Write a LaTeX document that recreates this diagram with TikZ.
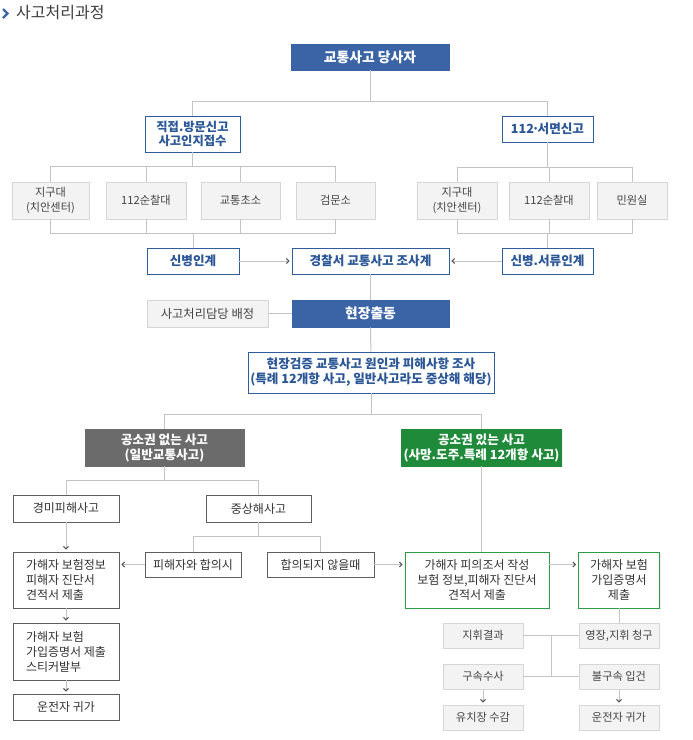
\documentclass[tikz,border=0pt]{standalone}
\usepackage{fontspec}
\setmainfont{Noto Sans CJK KR}
\usetikzlibrary{arrows.meta,calc,shadows}
\definecolor{hdblue}{HTML}{3A64A6}
\definecolor{bdblue}{HTML}{2F5D9B}
\definecolor{txblue}{HTML}{2B5797}
\definecolor{casegrey}{HTML}{6B6B6B}
\definecolor{casegreen}{HTML}{1E8A3A}
\definecolor{bdgreen}{HTML}{2E9B4B}
\definecolor{boxgrey}{HTML}{F3F3F3}
\definecolor{bdgrey}{HTML}{D6D6D6}
\definecolor{txgrey}{HTML}{444444}
\definecolor{bddark}{HTML}{5E5E5E}
\definecolor{txdark}{HTML}{333333}
\definecolor{wiregrey}{HTML}{C4C4C4}
\definecolor{tipgrey}{HTML}{555555}
\definecolor{titlegrey}{HTML}{3D3D3D}

\begin{document}
\begin{tikzpicture}[x=1pt,y=-1pt,
  base/.style={draw, line width=0.9pt, inner sep=2pt, align=center,
    drop shadow={opacity=0.12, shadow xshift=1.2pt, shadow yshift=-1.2pt}},
  head/.style={base, fill=hdblue, draw=hdblue, text=white,
    font=\fontsize{13.8}{16}\selectfont\bfseries, minimum height=26pt},
  bluebox/.style={base, fill=white, draw=bdblue, text=txblue,
    font=\fontsize{12.6}{15}\selectfont\bfseries, minimum height=26pt},
  greybox/.style={base, fill=boxgrey, draw=bdgrey, text=txgrey,
    font=\fontsize{11.2}{15}\selectfont, minimum width=80pt, minimum height=25pt},
  casebox/.style={base, text=white, font=\fontsize{12.6}{15}\selectfont\bfseries,
    minimum width=159pt, minimum height=37pt},
  plainbox/.style={base, fill=white, draw=bddark, text=txdark,
    font=\fontsize{12}{15}\selectfont},
  greenbox/.style={plainbox, draw=bdgreen},
  wire/.style={draw=wiregrey, line width=1pt},
  flow/.style={wire, -{Straight Barb[length=2.5pt,width=5pt,color=tipgrey]}, shorten >=2pt}
]
\useasboundingbox (0,0) rectangle (693,740);

% Title
\draw[hdblue, line width=2.4pt] (3,9) -- (7.5,13.5) -- (3,18);
\node[anchor=west, inner sep=0pt, text=titlegrey, font=\fontsize{16}{18}\selectfont] (title) at (16,13) {사고처리과정};

% Report reception
\node[head, minimum width=158pt] (party) at (370,57) {교통사고 당사자};
\node[bluebox, minimum width=95pt, minimum height=36pt,
  font=\fontsize{12.3}{13.8}\selectfont\bfseries] (visit) at (192.5,134) {직접.방문신고\\사고인지접수};
\node[bluebox, minimum width=91pt] (phone) at (547.5,129) {112\kern-2pt·\kern-2pt서면신고};

\draw[wire] (party.south) -- ++(0,31) -| (visit.north);
\draw[wire] (party.south) -- ++(0,31) -| (phone.north);

% Police units
\node[greybox, minimum width=77pt, minimum height=37pt] (post1) at (50.5,200.5) {지구대\\(치안센터)};
\node[greybox, minimum height=37pt] (patrol1) at (146,200.5) {112순찰대};
\node[greybox, minimum width=79pt, minimum height=37pt] (booth) at (240.5,200.5) {교통초소};
\node[greybox, minimum width=79pt, minimum height=37pt] (check) at (335.5,200.5) {검문소};
\node[greybox, minimum height=37pt] (post2) at (457,200.5) {지구대\\(치안센터)};
\node[greybox, minimum height=37pt] (patrol2) at (549,200.5) {112순찰대};
\node[greybox, minimum width=70pt, minimum height=37pt] (civil) at (632,200.5) {민원실};

\foreach \n in {post1,patrol1,booth,check}
  \draw[wire] (visit.south) -- ++(0,14) -| (\n.north);
\foreach \n in {post2,patrol2,civil}
  \draw[wire] (phone.south) -- ++(0,25) -| (\n.north);

% Handover
\node[bluebox, minimum width=92pt] (hand1) at (193,261) {신병인계};
\node[bluebox, minimum width=157pt] (police) at (370.5,261) {경찰서 교통사고 조사계};
\node[bluebox, minimum width=91pt] (hand2) at (547.5,261) {신병.서류인계};

\foreach \n in {post1,patrol1,booth,check}
  \draw[wire] (\n.south) -- ++(0,14) -| (hand1.north);
\foreach \n in {post2,patrol2,civil}
  \draw[wire] (\n.south) -- ++(0,14) -| (hand2.north);
\draw[flow] (hand1.east) -- (police.west);
\draw[flow] (hand2.west) -- (police.east);

% On site
\node[head, minimum width=157pt, minimum height=27pt] (dispatch) at (370.5,313.5) {현장출동};
\node[greybox, minimum width=121pt, minimum height=27pt,
  font=\fontsize{12.3}{14}\selectfont] (assign) at (207.5,313.5) {사고처리담당 배정};
\node[bluebox, minimum width=246pt, minimum height=41pt] (inspect) at (371,372.5)
  {현장검증 교통사고 원인과 피해사항 조사\\(특례 12개항 사고, 일반사고라도 중상해 해당)};

\draw[wire] (police) -- (dispatch);
\draw[wire] (assign) -- (dispatch);
\draw[wire] (dispatch) -- (inspect);

% Cases
\node[casebox, fill=casegrey, draw=casegrey] (nopros) at (164.5,447.5) {공소권 없는 사고\\(일반교통사고)};
\node[casebox, fill=casegreen, draw=casegreen] (pros) at (481.5,447.5) {공소권 있는 사고\\(사망.도주.특례 12개항 사고)};

\draw[wire] (inspect.south) -- ++(0,21) -| (nopros.north);
\draw[wire] (inspect.south) -- ++(0,21) -| (pros.north);

% No prosecution branch
\node[plainbox, minimum width=106pt, minimum height=27pt] (minor) at (66,508.5) {경미피해사고};
\node[plainbox, minimum width=105pt, minimum height=27pt] (severe) at (258.5,508.5) {중상해사고};
\node[plainbox, minimum width=96pt, minimum height=25pt] (agree) at (193,564.5) {피해자와 합의시};
\node[plainbox, minimum width=107pt, minimum height=25pt] (disagree) at (320.5,564.5) {합의되지 않을때};
\node[plainbox, minimum width=106pt, minimum height=56pt, align=left] (info1) at (66,580)
  {가해자 보험정보\\피해자 진단서\\견적서 제출};
\node[plainbox, minimum width=106pt, minimum height=57pt, align=left] (cert1) at (66,651.5)
  {가해자 보험\\가입증명서 제출\\스티커발부};
\node[plainbox, minimum width=106pt, minimum height=26pt] (home1) at (66,707) {운전자 귀가};

\draw[wire] (nopros.south) -- ++(0,14) -| (minor.north);
\draw[wire] (nopros.south) -- ++(0,14) -| (severe.north);
\draw[wire] (severe.south) -- ++(0,14) -| (agree.north);
\draw[wire] (severe.south) -- ++(0,14) -| (disagree.north);
\draw[flow] (minor) -- (info1);
\draw[flow] (agree.west) -- (agree.west -| info1.east);
\draw[flow] (info1) -- (cert1);
\draw[flow] (cert1) -- (home1);

% Prosecution branch
\node[greenbox, minimum width=144pt, minimum height=56pt] (report) at (477,580)
  {가해자 피의조서 작성\\보험 정보,피해자 진단서\\견적서 제출};
\node[greenbox, minimum width=81pt, minimum height=56pt] (cert2) at (619,580) {가해자 보험\\가입증명서\\제출};
\node[greybox] (result) at (483,635.5) {지휘결과};
\node[greybox] (warrant) at (619,635.5) {영장,지휘 청구};
\node[greybox] (detain) at (483,676.5) {구속수사};
\node[greybox] (nodetain) at (619,676.5) {불구속 입건};
\node[greybox] (jail) at (483,717.5) {유치장 수감};
\node[greybox] (home2) at (619,717.5) {운전자 귀가};

\draw[wire] (pros.south) -- (pros.south |- report.north);
\draw[flow] (disagree.east) -- (disagree.east -| report.west);
\draw[flow] (report.east |- disagree.east) -- (cert2.west |- disagree.east);
\draw[wire] (cert2) -- (warrant);
\draw[wire] (result) -- (warrant);
\draw[wire] (detain) -- (nodetain);
\draw[wire] ($(result.east)!0.5!(warrant.west)$) -- ($(detain.east)!0.5!(nodetain.west)$);
\draw[flow] (detain) -- (jail);
\draw[flow] (nodetain) -- (home2);
\end{tikzpicture}
\end{document}
